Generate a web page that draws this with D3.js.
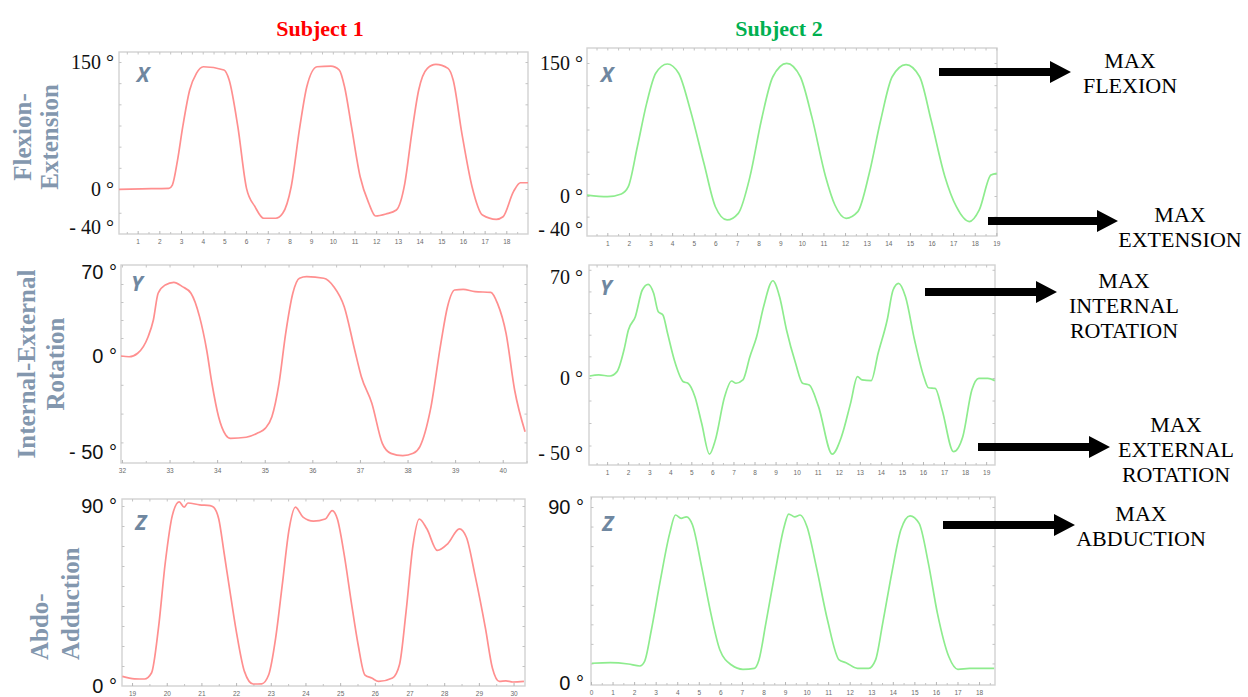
<!DOCTYPE html>
<html>
<head>
<meta charset="utf-8">
<title>Shoulder joint angles</title>
<script src="https://cdn.jsdelivr.net/npm/d3@7/dist/d3.min.js"></script>
<style>
  html, body { margin: 0; padding: 0; background: #ffffff; }
  svg { display: block; }
</style>
</head>
<body>
<svg id="chart" width="1248" height="697"></svg>
<script>
// ---------- Recorded joint angles (time in s, angle in degrees) ----------
const s1FlexTime  = [0.14, 1.2, 2.44, 2.6, 2.84, 3.08, 3.4, 3.71, 4.03, 4.98, 5.22, 5.62, 6.02, 6.41, 6.81, 7.37, 7.69, 8.08, 8.48, 8.8, 9.27, 9.91, 10.3, 10.54, 10.86, 11.26, 11.66, 11.97, 12.45, 12.93, 13.32, 13.64, 13.96, 14.36, 14.75, 15.31, 15.55, 15.95, 16.42, 16.9, 17.54, 17.85, 18.33, 18.65, 19.0];
const s1FlexAngle = [-0.3, 0.2, 0.8, 4.7, 34.2, 73.6, 116.9, 136.6, 144.4, 140.5, 128.7, 73.6, 0.8, -18.6, -30.8, -30.8, -25.6, 2.7, 73.6, 120.8, 144.4, 145.2, 140.5, 120.8, 73.6, 14.5, -15, -28.4, -26.3, -22.1, 6.7, 65.8, 116.9, 142.5, 147.2, 142.5, 128.7, 65.8, 2.7, -27.4, -31.9, -29.2, -2.8, 7.4, 7.4];

const s2FlexTime  = [0.06, 1.01, 1.65, 1.97, 2.39, 2.82, 3.24, 3.78, 4.3, 4.84, 5.47, 6.0, 6.54, 7.06, 7.6, 8.13, 8.66, 9.3, 9.93, 10.46, 11.1, 11.53, 12.05, 12.59, 13.12, 13.65, 14.18, 14.82, 15.45, 15.98, 16.62, 17.15, 17.75, 18.21, 18.75, 19.02];
const s2FlexAngle = [1.1, -0.8, 2.3, 10.5, 55.6, 104.5, 138.4, 148.9, 138.4, 97, 36.9, -13, -29, -21, 21.8, 85.7, 134.5, 149.6, 134.5, 89.5, 21.8, -10.9, -27, -19, 25.6, 85.7, 134.5, 148.2, 134.5, 85.7, 21.8, -13, -31, -16.9, 23.7, 25.6];

const s1RotTime  = [31.98, 32.15, 32.33, 32.55, 32.66, 32.76, 32.91, 33.09, 33.27, 33.45, 33.63, 33.78, 33.89, 34.03, 34.18, 34.28, 34.61, 34.86, 35.01, 35.15, 35.3, 35.44, 35.59, 35.73, 35.88, 36.24, 36.45, 36.67, 36.89, 37.03, 37.25, 37.47, 37.65, 37.9, 38.12, 38.26, 38.48, 38.7, 38.84, 38.99, 39.17, 39.42, 39.75, 39.89, 40.07, 40.25, 40.47];
const s1RotAngle = [0, -0.4, 2.3, 16.1, 30, 52.3, 59.2, 61.4, 57.8, 52.3, 32.8, 5, -14.2, -31.6, -41.1, -42.9, -42.3, -40, -37.7, -31.6, -14.2, 18.9, 52.3, 64.8, 66.1, 64.8, 57.8, 41.1, 5, -10.8, -24.6, -45.5, -50.7, -51.9, -50.7, -47.2, -28.1, 10.6, 41.1, 55, 55.6, 53.6, 53.1, 43.9, 18.9, -17.7, -39.4];

const s2RotTime  = [0.17, 0.6, 1.14, 1.47, 1.8, 2.01, 2.34, 2.67, 2.95, 3.21, 3.43, 3.65, 3.87, 4.19, 4.62, 4.84, 5.17, 5.49, 5.86, 6.14, 6.58, 6.91, 7.12, 7.45, 7.78, 8.1, 8.43, 8.87, 9.19, 9.52, 9.95, 10.28, 10.6, 11.04, 11.69, 12.13, 12.56, 12.89, 13.11, 13.54, 13.87, 14.3, 14.58, 14.84, 15.17, 15.6, 16.04, 16.26, 16.58, 16.91, 17.45, 17.89, 18.32, 18.65, 19.08, 19.41];
const s2RotAngle = [1.4, 2.1, 1.4, 4.4, 19.4, 33.3, 42.5, 61, 64.9, 58.7, 45.9, 43.7, 31, 12.5, -2.5, -3.5, -12.5, -30.2, -50.7, -41.3, -12.5, -2, -3.5, -1.3, 14.8, 28.6, 49.4, 67.4, 56.3, 33.3, 10.2, -3.5, -4.7, -19.1, -50.7, -39.1, -16.9, 0.9, -1.3, -1.8, 17.1, 40.2, 61, 65.6, 56.3, 26.3, 0.9, -6.5, -6.9, -21.3, -49.1, -39.1, -8, -0.2, -0.2, -1.8];

const s1AbdTime  = [18.72, 19.07, 19.36, 19.56, 19.76, 19.96, 20.16, 20.36, 20.5, 20.61, 20.95, 21.25, 21.35, 21.5, 21.65, 21.84, 22.04, 22.24, 22.49, 22.74, 22.94, 23.14, 23.33, 23.53, 23.71, 23.93, 24.23, 24.57, 24.77, 24.92, 25.12, 25.32, 25.52, 25.71, 25.91, 26.11, 26.51, 26.71, 26.9, 27.1, 27.28, 27.5, 27.8, 28.1, 28.44, 28.64, 28.89, 29.19, 29.39, 29.59, 29.78, 29.98, 30.3];
const s1AbdAngle = [4.8, 3.6, 3.5, 6.5, 28.8, 62, 85.2, 92.1, 89.4, 91.5, 90.6, 90.2, 89.4, 83.5, 67, 45.4, 23.9, 7.3, 1, 1.1, 5.6, 23.9, 50.4, 78.6, 89.4, 84.4, 82.4, 83.5, 87.7, 83.5, 65.3, 42.1, 20.5, 5.6, 4, 2.3, 4, 10.6, 37.1, 70.3, 83.5, 78.6, 67.8, 71.1, 78.6, 74.4, 55.3, 28.8, 9, 2.3, 2.6, 2, 2.3];

const s2AbdTime  = [0.04, 0.89, 1.73, 2.27, 2.48, 2.8, 3.22, 3.65, 3.92, 4.18, 4.43, 4.71, 5.13, 5.56, 5.98, 6.52, 7.05, 7.58, 7.79, 8.11, 8.53, 8.96, 9.17, 9.45, 9.7, 10.02, 10.45, 10.97, 11.51, 11.83, 12.36, 12.88, 13.2, 13.53, 13.95, 14.37, 14.8, 15.22, 15.65, 16.07, 16.6, 17.02, 17.56, 18.7];
const s2AbdAngle = [10.1, 10.4, 9.7, 8.7, 10.9, 27.1, 52.7, 76.5, 85.9, 84.2, 85, 80.8, 59.5, 35.6, 16.9, 9.2, 7, 7.5, 11.8, 30.5, 56.1, 79.9, 86.4, 85, 85.9, 79.9, 59.5, 32.2, 11.8, 10.4, 7.5, 7.5, 11.8, 30.5, 56.1, 78.2, 85.5, 81.6, 61.2, 35.6, 13.4, 7, 7.5, 7.5];

// Angle labels on each row and the time tick labels of each panel
const flexTickValues = [150, 0, -40];
const rotTickValues  = [70, 0, -50];
const abdTickValues  = [90, 0];
const s1FlexTimeTicks = d3.range(1, 19);
const s2FlexTimeTicks = d3.range(1, 20);
const s1RotTimeTicks  = d3.range(32, 41);
const s2RotTimeTicks  = d3.range(1, 20);
const s1AbdTimeTicks  = d3.range(19, 31);
const s2AbdTimeTicks  = d3.range(0, 19);

const subjectNames = ["Subject 1", "Subject 2"];
const rowNames = [["Flexion-", "Extension"], ["Internal-External", "Rotation"], ["Abdo-", "Adduction"]];
const axisLetters = ["X", "Y", "Z"];
const annotationTexts = [
  ["MAX", "FLEXION"],
  ["MAX", "EXTENSION"],
  ["MAX", "INTERNAL", "ROTATION"],
  ["MAX", "EXTERNAL", "ROTATION"],
  ["MAX", "ABDUCTION"]
];

// ---------- Styling / layout ----------
const SERIF = "'Liberation Serif', 'Times New Roman', serif";
const SANS  = "'Liberation Sans', Arial, sans-serif";
const lineColors  = ["#ff8f8f", "#8eec8e"];
const titleColors = ["#ff0000", "#00b050"];
const rowLabelColor = "#8397ae";
const letterColor = "#6f87a0";

const panels = [
  { time: s1FlexTime, angle: s1FlexAngle, xDomain: [0.14, 19.0],  xTicks: s1FlexTimeTicks, yTicks: flexTickValues, subject: 0, row: 0,
    frame: [119, 528, 52, 234], yRange: [227, 189, 62], labelEnd: 114, labelFont: SERIF, letterAt: [143, 75], yStep: 25 },
  { time: s2FlexTime, angle: s2FlexAngle, xDomain: [0.06, 19.03], xTicks: s2FlexTimeTicks, yTicks: flexTickValues, subject: 1, row: 0,
    frame: [587, 997, 48, 236], yRange: [229, 196, 63], labelEnd: 583, labelFont: SERIF, letterAt: [607, 75], yStep: 25 },
  { time: s1RotTime, angle: s1RotAngle, xDomain: [31.98, 40.51], xTicks: s1RotTimeTicks, yTicks: rotTickValues, subject: 0, row: 1,
    frame: [121, 527, 265, 463], yRange: [452, 356, 272], labelEnd: 117, labelFont: SANS, letterAt: [137, 284], yStep: 15 },
  { time: s2RotTime, angle: s2RotAngle, xDomain: [0.14, 19.42], xTicks: s2RotTimeTicks, yTicks: rotTickValues, subject: 1, row: 1,
    frame: [589, 995, 265, 465], yRange: [453, 378, 277], labelEnd: 583, labelFont: SERIF, letterAt: [606, 288], yStep: 15 },
  { time: s1AbdTime, angle: s1AbdAngle, xDomain: [18.71, 30.33], xTicks: s1AbdTimeTicks, yTicks: abdTickValues, subject: 0, row: 2,
    frame: [122, 525, 499, 686], yRange: [686, 506], labelEnd: 117, labelFont: SANS, letterAt: [141, 523], yStep: 10 },
  { time: s2AbdTime, angle: s2AbdAngle, xDomain: [0, 18.74], xTicks: s2AbdTimeTicks, yTicks: abdTickValues, subject: 1, row: 2,
    frame: [591, 995, 497, 685], yRange: [683, 507], labelEnd: 584, labelFont: SANS, letterAt: [608, 524], yStep: 10 }
];

const svg = d3.select("#chart");
const defs = svg.append("defs");

const degLabel = v => (v < 0 ? "- " + (-v) : String(v)) + " \u00B0";

panels.forEach((p, i) => {
  const [fx0, fx1, fy0, fy1] = p.frame;
  const g = svg.append("g");

  const x = d3.scaleLinear().domain(p.xDomain).range([fx0, fx1]);
  const yDom = p.yTicks.slice().sort(d3.ascending);
  const y = d3.scaleLinear().domain(yDom).range(p.yRange);

  // plot frame
  g.append("rect")
    .attr("x", fx0).attr("y", fy0)
    .attr("width", fx1 - fx0).attr("height", fy1 - fy0)
    .attr("fill", "#ffffff")
    .attr("stroke", "#d2d2d2")
    .attr("stroke-width", 1.4);

  // time axis: labelled ticks on the bottom edge, small inward marks on both edges
  const halfTicks = d3.range(Math.ceil(p.xDomain[0] * 2) / 2, p.xDomain[1] + 1e-6, 0.5)
    .filter(v => v % 1 !== 0);

  const bottom = g.append("g").attr("transform", `translate(0,${fy1})`)
    .call(d3.axisBottom(x).tickValues(p.xTicks).tickSizeInner(-3).tickSizeOuter(0).tickPadding(5).tickFormat(d3.format("d")));
  bottom.select(".domain").remove();
  bottom.selectAll(".tick line").attr("stroke", "#b5b5b5");
  bottom.selectAll(".tick text").attr("fill", "#6a6a6a").attr("font-size", 6.5).attr("font-family", SANS);

  const bottomMinor = g.append("g").attr("transform", `translate(0,${fy1})`)
    .call(d3.axisBottom(x).tickValues(halfTicks).tickSizeInner(-2).tickSizeOuter(0).tickFormat(""));
  bottomMinor.select(".domain").remove();
  bottomMinor.selectAll(".tick line").attr("stroke", "#c4c4c4");

  const top = g.append("g").attr("transform", `translate(0,${fy0})`)
    .call(d3.axisTop(x).tickValues(p.xTicks.concat(halfTicks)).tickSizeInner(-2.5).tickSizeOuter(0).tickFormat(""));
  top.select(".domain").remove();
  top.selectAll(".tick line").attr("stroke", "#c4c4c4");

  // angle axis: small inward marks on the left and right edges
  const lo = y.invert(fy1), hi = y.invert(fy0);
  const edgeTicks = d3.range(Math.ceil(lo / p.yStep) * p.yStep, hi, p.yStep)
    .filter(v => Math.abs(y(v) - fy0) > 4 && Math.abs(y(v) - fy1) > 4);
  [[d3.axisLeft, fx0], [d3.axisRight, fx1]].forEach(([axisFn, ax]) => {
    const a = g.append("g").attr("transform", `translate(${ax},0)`)
      .call(axisFn(y).tickValues(edgeTicks).tickSizeInner(-2.5).tickSizeOuter(0).tickFormat(""));
    a.select(".domain").remove();
    a.selectAll(".tick line").attr("stroke", "#c4c4c4");
  });

  // angle labels
  g.selectAll("text.ylab").data(p.yTicks).join("text")
    .attr("class", "ylab")
    .attr("x", p.labelEnd)
    .attr("y", d => y(d))
    .attr("dy", "0.35em")
    .attr("text-anchor", "end")
    .attr("font-family", p.labelFont)
    .attr("font-size", 20)
    .attr("fill", "#111")
    .text(degLabel);

  // signal trace
  const clipId = "clip" + i;
  defs.append("clipPath").attr("id", clipId)
    .append("rect").attr("x", fx0).attr("y", fy0).attr("width", fx1 - fx0).attr("height", fy1 - fy0);

  const line = d3.line()
    .x(d => x(d[0]))
    .y(d => y(d[1]))
    .curve(d3.curveMonotoneX);

  g.append("path")
    .datum(d3.zip(p.time, p.angle))
    .attr("clip-path", `url(#${clipId})`)
    .attr("fill", "none")
    .attr("stroke", lineColors[p.subject])
    .attr("stroke-width", 1.7)
    .attr("stroke-linejoin", "round")
    .attr("d", line);

  // axis letter
  g.append("text")
    .attr("x", p.letterAt[0]).attr("y", p.letterAt[1])
    .attr("dy", "0.35em")
    .attr("text-anchor", "middle")
    .attr("font-family", "'Open Sans', " + SANS)
    .attr("font-style", "italic")
    .attr("font-weight", 700)
    .attr("font-size", 21)
    .attr("fill", letterColor)
    .text(axisLetters[p.row]);
});

// subject titles
const titleX = [320, 779];
svg.selectAll("text.subject").data(subjectNames).join("text")
  .attr("class", "subject")
  .attr("x", (d, i) => titleX[i])
  .attr("y", 36)
  .attr("text-anchor", "middle")
  .attr("font-family", SERIF)
  .attr("font-weight", 700)
  .attr("font-size", 22)
  .attr("fill", (d, i) => titleColors[i])
  .text(d => d);

// row titles, written bottom-to-top
const rowLabelLayout = [
  { lines: [{ x: 31, y: 137 }, { x: 58, y: 137 }], anchor: "middle" },
  { lines: [{ x: 35, y: 364 }, { x: 64, y: 364 }], anchor: "middle" },
  { lines: [{ x: 48, y: 660 }, { x: 79, y: 660 }], anchor: "start" }
];
rowNames.forEach((names, r) => {
  const L = rowLabelLayout[r];
  names.forEach((t, k) => {
    svg.append("text")
      .attr("transform", `translate(${L.lines[k].x},${L.lines[k].y}) rotate(-90)`)
      .attr("text-anchor", L.anchor)
      .attr("font-family", SERIF)
      .attr("font-weight", 700)
      .attr("font-size", 25)
      .attr("fill", rowLabelColor)
      .text(t);
  });
});

// arrows pointing to the extreme-value notes
const arrowLayout = [
  { x0: 939, x1: 1071, y: 72,  tx: 1130, ty: [68, 93] },
  { x0: 988, x1: 1118, y: 221, tx: 1180, ty: [222, 247] },
  { x0: 925, x1: 1057, y: 292, tx: 1124, ty: [288, 313, 338] },
  { x0: 978, x1: 1110, y: 447, tx: 1176, ty: [432, 457, 482] },
  { x0: 943, x1: 1075, y: 525, tx: 1141, ty: [521, 546] }
];
arrowLayout.forEach((a, i) => {
  const sh = 4, hh = 11, hl = 21;
  const pth = d3.path();
  pth.moveTo(a.x0, a.y - sh);
  pth.lineTo(a.x1 - hl, a.y - sh);
  pth.lineTo(a.x1 - hl, a.y - hh);
  pth.lineTo(a.x1, a.y);
  pth.lineTo(a.x1 - hl, a.y + hh);
  pth.lineTo(a.x1 - hl, a.y + sh);
  pth.lineTo(a.x0, a.y + sh);
  pth.closePath();
  svg.append("path").attr("d", pth.toString()).attr("fill", "#000");

  annotationTexts[i].forEach((t, k) => {
    svg.append("text")
      .attr("x", a.tx).attr("y", a.ty[k])
      .attr("text-anchor", "middle")
      .attr("font-family", SERIF)
      .attr("font-size", 22)
      .attr("fill", "#000")
      .text(t);
  });
});
</script>
</body>
</html>
